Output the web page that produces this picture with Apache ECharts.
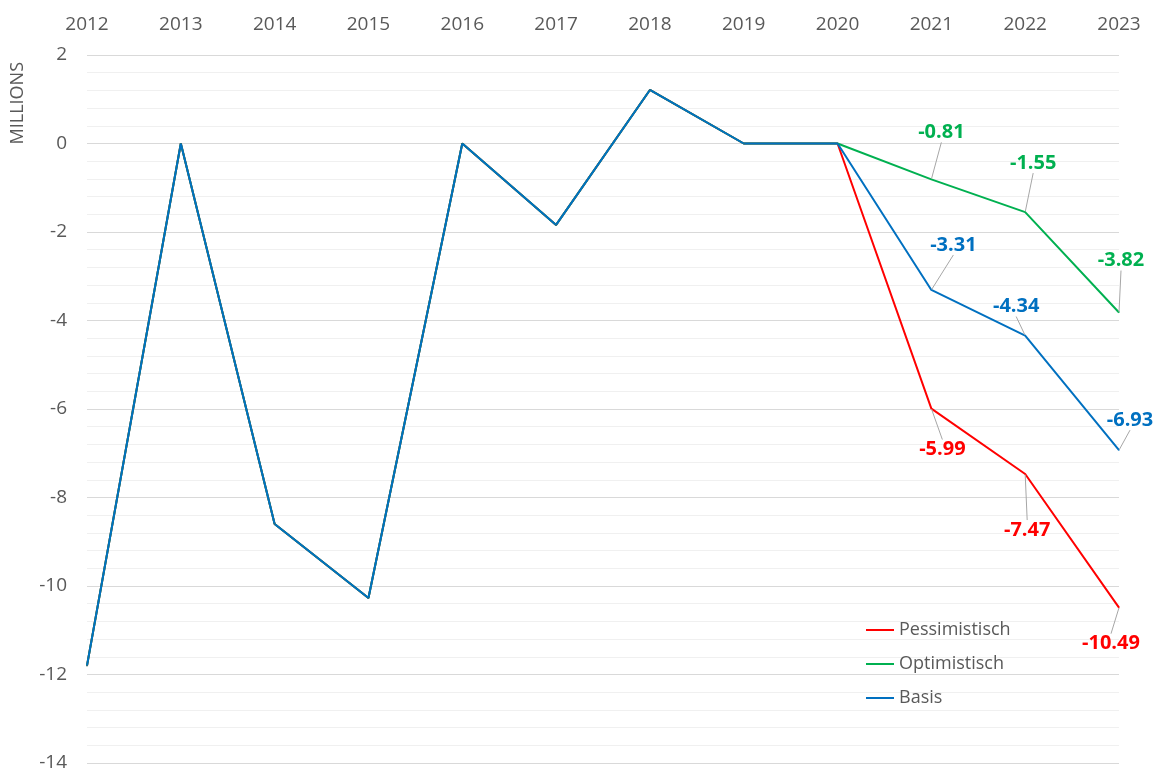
<!DOCTYPE html>
<html>
<head>
<meta charset="utf-8">
<script src="https://cdn.jsdelivr.net/npm/echarts@6/dist/echarts.min.js"></script>
<style>html,body{margin:0;padding:0;background:#fff}#c{width:1157px;height:773px}</style>
</head>
<body>
<div id="c"></div>
<script>
const years = ['2012','2013','2014','2015','2016','2017','2018','2019','2020','2021','2022','2023'];
const pessimistisch = [-11.8, 0, -8.6, -10.27, 0, -1.84, 1.21, 0, 0, -5.99, -7.47, -10.49];
const optimistisch  = [-11.8, 0, -8.6, -10.27, 0, -1.84, 1.21, 0, 0, -0.81, -1.55, -3.82];
const basis         = [-11.8, 0, -8.6, -10.27, 0, -1.84, 1.21, 0, 0, -3.31, -4.34, -6.93];
const labelFrom = 9; // first labelled index (2021)

// label offsets (layout only)
const offsets = {
  Pessimistisch: [[11, 41], [2, 56], [-8, 36]],
  Optimistisch: [[10, -47], [8, -49], [2, -52]],
  Basis: [[22, -45], [-9, -29], [11, -30]]
};
const colors = { Pessimistisch: '#FF0000', Optimistisch: '#00B050', Basis: '#0070C0' };
const FONT = '"Open Sans", "Noto Sans", sans-serif';

function mk(name, data) {
  return {
    name, type: 'line', data, symbol: 'circle', symbolSize: 1, showSymbol: true, showAllSymbol: true,
    smooth: false,
    lineStyle: { color: colors[name], width: 2 },
    itemStyle: { color: colors[name] },
    label: {
      show: true,
      formatter: p => p.dataIndex >= labelFrom ? p.value.toFixed(2) : '',
      color: colors[name], fontWeight: 'bold', fontSize: 20, fontFamily: FONT,
      position: 'inside'
    },
    labelLine: { show: true, lineStyle: { color: '#a6a6a6', width: 1 } },
    labelLayout: p => {
      if (p.dataIndex < labelFrom) return { hide: true };
      const o = offsets[name][p.dataIndex - labelFrom];
      return { dx: o[0], dy: o[1] };
    },
    emphasis: { disabled: true }
  };
}

const chart = echarts.init(document.getElementById('c'));
chart.setOption({
  animation: false,
  grid: { left: 87, right: 38, top: 55, bottom: 10, containLabel: false },
  legend: {
    orient: 'vertical', left: 861, top: 616, itemGap: 16,
    itemWidth: 28, itemHeight: 2, icon: 'rect',
    textStyle: { fontSize: 18, color: '#595959', fontFamily: FONT },
    data: ['Pessimistisch', 'Optimistisch', 'Basis']
  },
  xAxis: {
    type: 'category', data: years, position: 'top', boundaryGap: false,
    axisLine: { show: false }, axisTick: { show: false },
    axisLabel: { fontSize: 19, color: '#595959', fontFamily: FONT, margin: 21 },
    splitLine: { show: false }
  },
  yAxis: {
    type: 'value', min: -14, max: 2, interval: 2,
    axisLine: { show: false }, axisTick: { show: false },
    axisLabel: { fontSize: 19, color: '#595959', fontFamily: FONT, margin: 20 },
    splitLine: { lineStyle: { color: '#d9d9d9', width: 1 } },
    minorTick: { show: false, splitNumber: 5 },
    minorSplitLine: { show: true, lineStyle: { color: '#f0f0f0', width: 1 } }
  },
  graphic: [{
    type: 'text', left: 9, top: 62, rotation: Math.PI / 2,
    style: { text: 'MILLIONS', fontSize: 18, fill: '#595959', fontFamily: FONT }
  }],
  series: [mk('Pessimistisch', pessimistisch), mk('Optimistisch', optimistisch), mk('Basis', basis)]
});
</script>
</body>
</html>
